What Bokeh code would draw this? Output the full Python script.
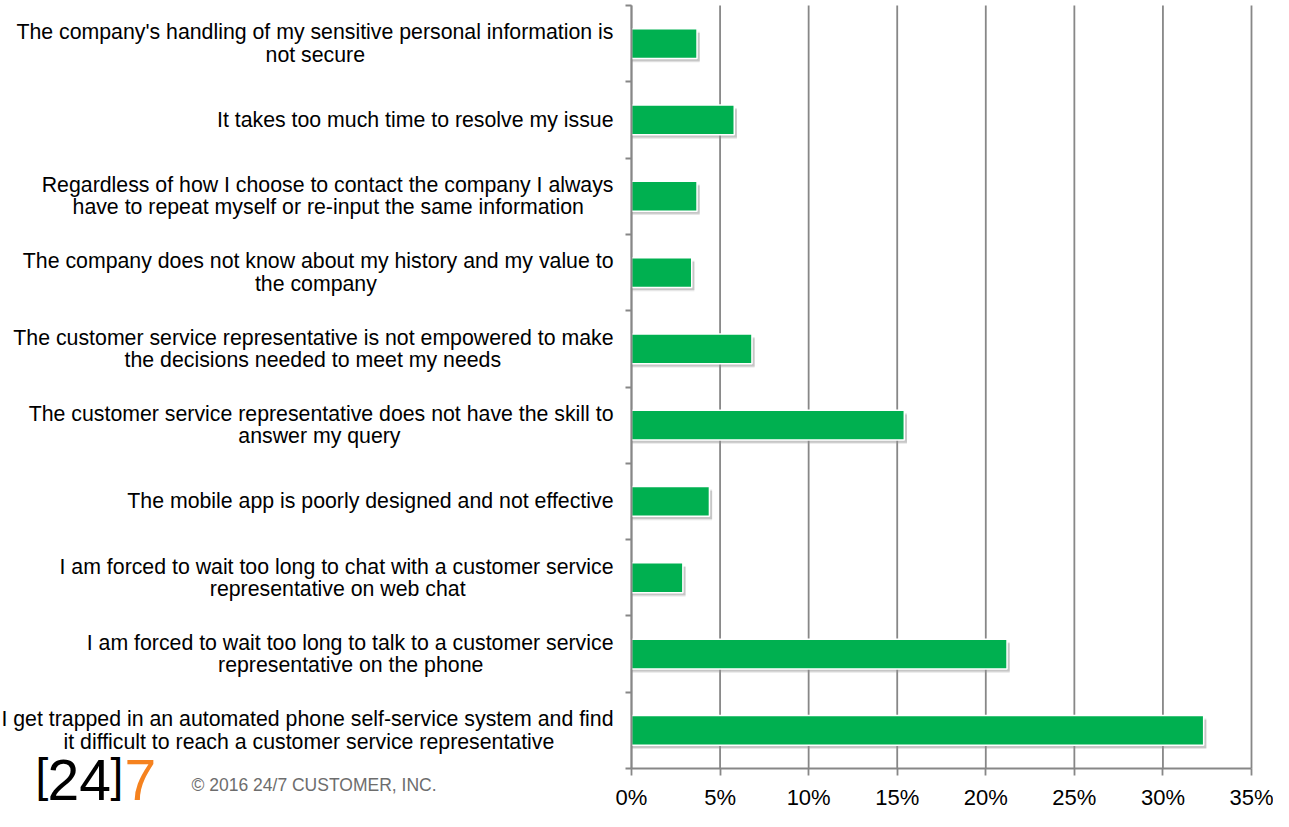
import glob
from bokeh.plotting import figure
from bokeh.models import FixedTicker, Range1d, Label, ColumnDataSource
from bokeh.embed import file_html
from bokeh.resources import INLINE

# ---- data (top to bottom) ----
categories = [
    "The company's handling of my sensitive personal information is\nnot secure",
    "It takes too much time to resolve my issue",
    "Regardless of how I choose to contact the company I always\nhave to repeat myself or re-input the same information",
    "The company does not know about my history and my value to\nthe company",
    "The customer service representative is not empowered to make\nthe decisions needed to meet my needs",
    "The customer service representative does not have the skill to\nanswer my query",
    "The mobile app is poorly designed and not effective",
    "I am forced to wait too long to chat with a customer service\nrepresentative on web chat",
    "I am forced to wait too long to talk to a customer service\nrepresentative on the phone",
    "I get trapped in an automated phone self-service system and find\nit difficult to reach a customer service representative",
]
values = [3.7, 5.8, 3.7, 3.4, 6.8, 15.4, 4.4, 2.9, 21.2, 32.3]
x_ticks = [0, 5, 10, 15, 20, 25, 30, 35]
x_tick_labels = ["0%", "5%", "10%", "15%", "20%", "25%", "30%", "35%"]

GREEN = "#00B050"
GRID = "#878787"
FONT = "Liberation Sans"
LABEL_PX = 21.3

# ---- centre the lines of the two-line labels (Excel style) ----
def _find(name):
    for d in ["/usr/share/fonts", "/usr/local/share/fonts"]:
        hits = glob.glob(d + "/**/" + name, recursive=True)
        if hits:
            return hits[0]
    return None

def centred(label):
    lines = label.split("\n")
    if len(lines) < 2:
        return label
    try:
        from PIL import ImageFont
        f = ImageFont.truetype(_find("LiberationSans-Regular.ttf"), LABEL_PX)
        ws = [f.getlength(l) for l in lines]
        nb = f.getlength("\u00a0")
        W = max(ws)
        return "\n".join(l + "\u00a0" * int(round((W - w) / 2.0 / nb))
                         for l, w in zip(lines, ws))
    except Exception:
        return label

n = len(categories)
ypos = [n - i - 0.5 for i in range(n)]

src = ColumnDataSource(dict(
    y=ypos,
    v=values,
    ys=[y - 0.045 for y in ypos],
    vs=[v + 0.15 for v in values],
))
grid_src = ColumnDataSource(dict(x=x_ticks))

# ---- layout: the frame fills the whole canvas; axes are pinned at 0 ----
W, H = 1273, 811
AX_X = 631            # canvas x of 0%
X_END = 1251          # canvas x of 35%
PX_PER_PCT = (X_END - AX_X) / 35.0
AX_Y = 768            # canvas y of the category axis bottom
TOP_Y = 5
PX_PER_CAT = (AX_Y - TOP_Y) / n

x_range = Range1d(-AX_X / PX_PER_PCT, (W - AX_X) / PX_PER_PCT)
y_range = Range1d(-(H - AX_Y) / PX_PER_CAT, n + TOP_Y / PX_PER_CAT)

p = figure(width=W, height=H, output_backend="svg", toolbar_location=None,
           x_range=x_range, y_range=y_range, min_border=0,
           min_border_left=0, min_border_right=0, min_border_top=0, min_border_bottom=0)
p.outline_line_color = None
p.background_fill_color = "white"
p.border_fill_color = "white"
p.xgrid.visible = False
p.ygrid.visible = False

# vertical gridlines at the x ticks, over the category extent
p.segment(x0="x", y0=0, x1="x", y1=n, source=grid_src,
          line_color=GRID, line_width=1.8, level="underlay")

# x axis
xa = p.xaxis[0]
xa.fixed_location = 0
xa.bounds = (0, 35)
xa.ticker = FixedTicker(ticks=x_ticks)
xa.major_label_overrides = {t: l for t, l in zip(x_ticks, x_tick_labels)}
xa.major_tick_out = 7
xa.major_tick_in = 0
xa.minor_tick_line_color = None
xa.axis_line_color = GRID
xa.axis_line_width = 1.8
xa.major_tick_line_color = GRID
xa.major_tick_line_width = 1.8
xa.major_label_text_font = FONT
xa.major_label_text_font_size = "22px"
xa.major_label_text_color = "black"
xa.major_label_standoff = 9

# y axis
ya = p.yaxis[0]
ya.fixed_location = 0
ya.bounds = (0, n)
ya.ticker = FixedTicker(ticks=ypos, minor_ticks=list(range(n + 1)))
ya.major_label_overrides = {y: centred(c) for y, c in zip(ypos, categories)}
ya.major_tick_out = 0
ya.major_tick_in = 0
ya.minor_tick_out = 6
ya.minor_tick_in = 0
ya.minor_tick_line_color = GRID
ya.minor_tick_line_width = 1.8
ya.axis_line_color = GRID
ya.axis_line_width = 1.8
ya.major_label_text_font = FONT
ya.major_label_text_font_size = f"{LABEL_PX}px"
ya.major_label_text_color = "black"
ya.major_label_text_line_height = 0.93
ya.major_label_standoff = 12

# bars with soft shadow
p.hbar(y="ys", left=0, right="vs", height=0.40, source=src,
       fill_color="#9a9a9a", fill_alpha=0.25, line_color=None)
p.hbar(y="ys", left=0, right="vs", height=0.37, source=src,
       fill_color="#8a8a8a", fill_alpha=0.35, line_color=None)
p.hbar(y="y", left=0, right="v", height=0.39, source=src,
       fill_color=GREEN, line_color="white", line_width=1.5)

# logo and copyright (canvas pixel anchors converted to data units)
def dx(cx):
    return (cx - AX_X) / PX_PER_PCT

def dy(px_below_axis):
    return -px_below_axis / PX_PER_CAT

p.add_layout(Label(x=dx(35), y=dy(32), text="[", text_font=FONT,
                   text_font_size="46px", text_color="black"))
p.add_layout(Label(x=dx(47), y=dy(31), text="24", text_font=FONT,
                   text_font_size="57px", text_color="black"))
p.add_layout(Label(x=dx(110), y=dy(32), text="]", text_font=FONT,
                   text_font_size="46px", text_color="black"))
p.add_layout(Label(x=dx(124), y=dy(31), text="7", text_font=FONT,
                   text_font_size="57px", text_color="#F5821F"))
p.add_layout(Label(x=dx(191), y=dy(26), text="\u00a9 2016  24/7 CUSTOMER, INC.",
                   text_font=FONT, text_font_size="17.5px", text_color="#6d6d6d"))

open("out.html", "w").write(file_html(p, INLINE))
